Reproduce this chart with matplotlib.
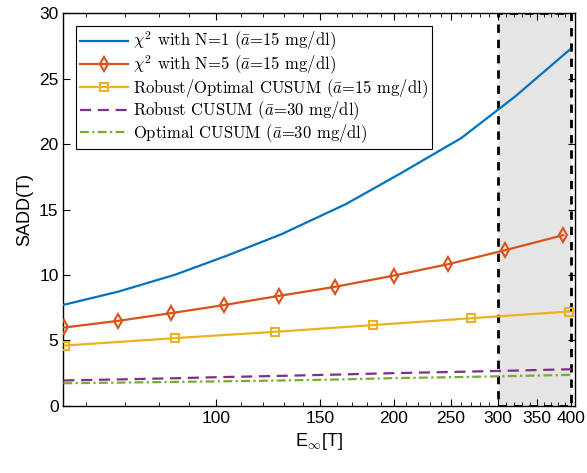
import numpy as np
import matplotlib
matplotlib.use('Agg')
import matplotlib.pyplot as plt
from matplotlib.patches import Rectangle
from matplotlib.ticker import FixedLocator, FixedFormatter, NullFormatter

plt.rcParams['font.family'] = ['Liberation Sans', 'DejaVu Sans']
plt.rcParams['mathtext.fontset'] = 'cm'

# datos
x_chi1 = [55, 68, 85, 104, 129, 166, 205, 260, 321, 397]
y_chi1 = [7.72, 8.72, 10.02, 11.47, 13.13, 15.44, 17.76, 20.47, 23.65, 27.22]

x_chi5 = [55.2, 68.2, 83.8, 102.8, 127.8, 158.9, 199.9, 247, 308.7, 387.3]
y_chi5 = [5.99, 6.50, 7.09, 7.70, 8.41, 9.10, 9.96, 10.83, 11.90, 13.05]

x_rob15 = [55.3, 85.2, 125.7, 184, 270.7, 396]
y_rob15 = [4.61, 5.18, 5.66, 6.17, 6.70, 7.21]

x_30 = [55, 70, 85, 100, 125, 160, 200, 250, 310, 400]
y_rob30 = [1.94, 2.03, 2.11, 2.19, 2.28, 2.39, 2.50, 2.59, 2.68, 2.80]
y_opt30 = [1.73, 1.78, 1.83, 1.87, 1.93, 2.01, 2.12, 2.19, 2.27, 2.37]

etiquetas = [r'$\chi^2$ with N=1 ($\bar{a}$=15 mg/dl)',
             r'$\chi^2$ with N=5 ($\bar{a}$=15 mg/dl)',
             r'Robust/Optimal CUSUM ($\bar{a}$=15 mg/dl)',
             r'Robust CUSUM ($\bar{a}$=30 mg/dl)',
             r'Optimal CUSUM ($\bar{a}$=30 mg/dl)']

x_ticks = [100, 150, 200, 250, 300, 350, 400]
x_minor = [60, 70, 80, 90] + list(range(110, 400, 10))

fig = plt.figure(figsize=(5.87, 4.73), dpi=100)
ax = fig.add_axes([0.108, 0.142, 0.872, 0.8295])

# zona sombreada
ax.add_patch(Rectangle((300, 0), 100, 30, facecolor='#e5e5e5', edgecolor='black',
                       linestyle=(0, (3, 2.5)), linewidth=2, zorder=1))

ax.plot(x_chi1, y_chi1, color='#0072BD', lw=1.6, label=etiquetas[0], zorder=3)
ax.plot(x_chi5, y_chi5, color='#D95319', lw=1.6, marker='d', ms=7.5, mfc='none',
        mew=1.5, label=etiquetas[1], zorder=3)
ax.plot(x_rob15, y_rob15, color='#EDB120', lw=1.6, marker='s', ms=6, mfc='none',
        mew=1.5, label=etiquetas[2], zorder=3)
ax.plot(x_30, y_rob30, color='#7E2F8E', lw=1.6, ls=(0, (5, 3)), label=etiquetas[3], zorder=3)
ax.plot(x_30, y_opt30, color='#77AC30', lw=1.6, ls=(0, (4, 1.5, 1, 1.5)), label=etiquetas[4], zorder=3)

ax.set_xscale('log')
ax.set_xlim(55, 406)
ax.set_ylim(0, 30)
ax.xaxis.set_major_locator(FixedLocator(x_ticks))
ax.xaxis.set_major_formatter(FixedFormatter([str(t) for t in x_ticks]))
ax.xaxis.set_minor_locator(FixedLocator(x_minor))
ax.xaxis.set_minor_formatter(NullFormatter())
ax.set_yticks(range(0, 31, 5))
ax.tick_params(which='both', direction='in', top=True, right=True, labelsize=12.5)
ax.tick_params(which='major', length=5)
ax.tick_params(which='minor', length=3)
for s in ax.spines.values():
    s.set_linewidth(1.0)

ax.set_xlabel(r'E$_\infty$[T]', fontsize=13)
ax.set_ylabel('SADD(T)', fontsize=13)

leg = ax.legend(loc='upper left', bbox_to_anchor=(0.024, 0.969), borderaxespad=0,
                prop={'family': 'cmr10', 'size': 12}, handlelength=2.9, fancybox=False,
                framealpha=1, edgecolor='black', labelspacing=0.0, handletextpad=0.3,
                borderpad=0.25)
leg.get_frame().set_linewidth(0.8)

fig.savefig('out.png', dpi=100)
